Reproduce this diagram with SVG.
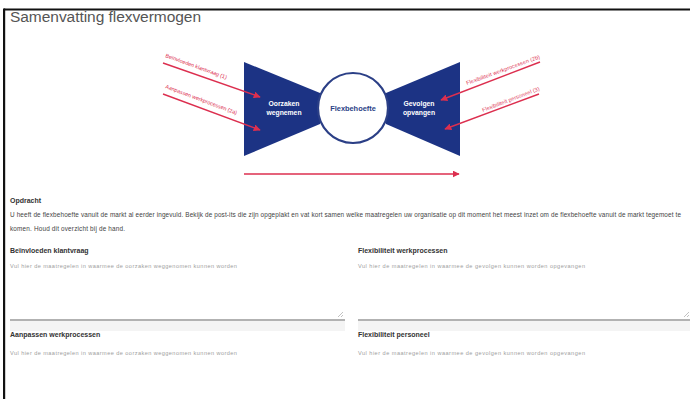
<svg xmlns="http://www.w3.org/2000/svg" width="690" height="399" viewBox="0 0 690 399">
<style>
.t{font-family:"Liberation Sans",Arial,sans-serif}
.red{fill:#dc2f4f;font-size:5.4px}
.wl{fill:#fff;font-size:6.8px;font-weight:bold;text-anchor:middle}
.lab{fill:#333;font-size:7px;font-weight:bold}
.ph{fill:#a0a0a0;font-size:5.6px}
.par{fill:#444;font-size:6.4px}
.arr{stroke:#dc2f4f;stroke-width:1.4;fill:none;marker-end:url(#ah)}
.line{stroke:#666;stroke-width:1.2}
</style>
<defs>
<marker id="ah" viewBox="0 0 10 10" refX="9" refY="5" markerWidth="7" markerHeight="7" markerUnits="userSpaceOnUse" orient="auto">
<path d="M0,0 L10,5 L0,10 z" fill="#dc2f4f"/>
</marker>
</defs>
<rect x="0" y="0" width="690" height="399" fill="#fff"/>
<rect x="4" y="8.5" width="686" height="2" fill="#111"/>
<rect x="3" y="8.5" width="2.2" height="390.5" fill="#111"/>
<text class="t" x="10" y="22" font-size="15.5" fill="#555" textLength="191">Samenvatting flexvermogen</text>

<g id="oorzaken">
<polygon points="244,62 320,93 320,124 244,156" fill="#1c3384"/>
<text class="t wl" x="284" y="106">Oorzaken</text>
<text class="t wl" x="284" y="115">wegnemen</text>
</g>
<g id="gevolgen">
<polygon points="460,62 386,93 386,124 460,156" fill="#1c3384"/>
<text class="t wl" x="419" y="106">Gevolgen</text>
<text class="t wl" x="419" y="115">opvangen</text>
</g>
<g id="flexbehoefte">
<circle cx="353" cy="108" r="35" fill="#fff" stroke="#2b3f86" stroke-width="2.2"/>
<text class="t" x="353" y="111" font-size="7.4" font-weight="bold" fill="#2b3f86" text-anchor="middle">Flexbehoefte</text>
</g>

<g id="connectors">
<line class="arr" x1="163" y1="63" x2="260" y2="97"/>
<line class="arr" x1="163" y1="94" x2="260" y2="130"/>
<line class="arr" x1="540" y1="62" x2="441" y2="100"/>
<line class="arr" x1="539" y1="94" x2="445" y2="129"/>
<line class="arr" x1="244" y1="174" x2="459" y2="174"/>
</g>
<g id="arrow-labels">
<text class="t red" transform="translate(165,57) rotate(20)" textLength="65">Beïnvloeden klantvraag (1)</text>
<text class="t red" transform="translate(165,88) rotate(20.5)" textLength="76">Aanpassen werkprocessen (2a)</text>
<text class="t red" transform="translate(467,85) rotate(-20)" textLength="78">Flexibiliteit werkprocessen (2b)</text>
<text class="t red" transform="translate(483,112) rotate(-21)" textLength="61">Flexibiliteit personeel (3)</text>
</g>

<g id="opdracht">
<text class="t" x="10" y="203" font-size="7" font-weight="bold" fill="#333">Opdracht</text>
<text class="t par" x="10" y="217" textLength="671">U heeft de flexbehoefte vanuit de markt al eerder ingevuld. Bekijk de post-its die zijn opgeplakt en vat kort samen welke maatregelen uw organisatie op dit moment het meest inzet om de flexbehoefte vanuit de markt tegemoet te</text>
<text class="t par" x="10" y="231" textLength="115">komen. Houd dit overzicht bij de hand.</text>
</g>

<g id="beinvloeden">
<text class="t lab" x="10" y="253">Beïnvloeden klantvraag</text>
<text class="t ph" x="10" y="268" textLength="227">Vul hier de maatregelen in waarmee de oorzaken weggenomen kunnen worden</text>
<line class="line" x1="10" y1="320" x2="345" y2="320"/>
<rect x="10" y="321" width="335" height="10" fill="#f4f4f4"/>
<path d="M338,317 L343,312 M341,317 L343,315" stroke="#999" stroke-width="0.6"/>
</g>
<g id="flex-werkprocessen">
<text class="t lab" x="358" y="253">Flexibiliteit werkprocessen</text>
<text class="t ph" x="358" y="268" textLength="227">Vul hier de maatregelen in waarmee de gevolgen kunnen worden opgevangen</text>
<line class="line" x1="358" y1="320" x2="690" y2="320"/>
<rect x="358" y="321" width="332" height="10" fill="#f4f4f4"/>
<path d="M684,317 L689,312 M687,317 L689,315" stroke="#999" stroke-width="0.6"/>
</g>
<g id="aanpassen">
<text class="t lab" x="10" y="337">Aanpassen werkprocessen</text>
<text class="t ph" x="10" y="355" textLength="227">Vul hier de maatregelen in waarmee de oorzaken weggenomen kunnen worden</text>
</g>
<g id="flex-personeel">
<text class="t lab" x="358" y="337">Flexibiliteit personeel</text>
<text class="t ph" x="358" y="355" textLength="227">Vul hier de maatregelen in waarmee de gevolgen kunnen worden opgevangen</text>
</g>
</svg>
